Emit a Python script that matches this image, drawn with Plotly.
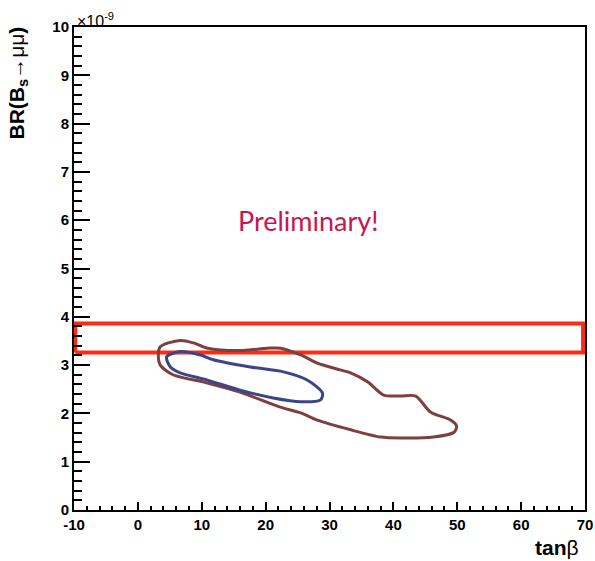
import plotly.graph_objects as go

# Data (BR in units of 1e-9)
inner_tanb = [4.5, 6.6, 9.8, 11.8, 17.6, 22.8, 26.5, 28.9, 28.6, 25.5, 21.2, 16.0, 10.9, 6.6, 5.1, 4.5]
inner_br = [3.17, 3.28, 3.21, 3.11, 2.96, 2.86, 2.69, 2.42, 2.28, 2.24, 2.32, 2.48, 2.69, 2.84, 2.96, 3.17]

outer_tanb = [3.2, 3.5, 6.6, 8.7, 10.9, 16.0, 20.3, 22.3, 25.5, 28.1, 31.7, 33.3, 36.0, 38.5, 41.1,
              43.5, 45.8, 49.0, 49.9, 49.5, 46.3, 41.1, 38.0, 33.3, 28.1, 25.5, 22.3, 16.0, 10.9,
              5.5, 3.5, 3.2]
outer_br = [3.17, 3.38, 3.51, 3.46, 3.35, 3.30, 3.35, 3.35, 3.21, 3.04, 2.90, 2.84, 2.65, 2.38, 2.36,
            2.36, 2.03, 1.86, 1.74, 1.61, 1.51, 1.49, 1.51, 1.66, 1.86, 2.01, 2.13, 2.44, 2.63,
            2.80, 3.00, 3.17]

band_tanb = [-9.8, 69.7]
band_br = [3.26, 3.86]

x_range = [-10, 70]
y_range = [0, 10]
x_ticks = [-10, 0, 10, 20, 30, 40, 50, 60, 70]
y_ticks = [0, 1, 2, 3, 4, 5, 6, 7, 8, 9, 10]

fig = go.Figure()

bx = [band_tanb[0], band_tanb[1], band_tanb[1], band_tanb[0], band_tanb[0]]
by = [band_br[0], band_br[0], band_br[1], band_br[1], band_br[0]]
fig.add_trace(go.Scatter(x=bx, y=by, mode="lines",
                         line=dict(color="#ff2a12", width=4), showlegend=False, hoverinfo="skip"))

fig.add_trace(go.Scatter(x=outer_tanb, y=outer_br, mode="lines",
                         line=dict(color="#7d3f3f", width=3, shape="spline", smoothing=0.8),
                         showlegend=False))
fig.add_trace(go.Scatter(x=inner_tanb, y=inner_br, mode="lines",
                         line=dict(color="#3b4688", width=3, shape="spline", smoothing=0.8),
                         showlegend=False))

tickfont = dict(family="Liberation Sans", size=15, color="black", weight="bold")

fig.update_layout(
    width=595, height=561,
    margin=dict(l=74, r=10, t=27, b=51),
    plot_bgcolor="white", paper_bgcolor="white",
    xaxis=dict(range=x_range, tickvals=x_ticks, ticktext=[str(v) for v in x_ticks],
               ticks="inside", ticklen=8, tickwidth=2, tickcolor="black", automargin=False,
               showline=True, linecolor="black", linewidth=2, mirror=True,
               showgrid=False, zeroline=False, tickfont=tickfont,
               minor=dict(dtick=2, ticks="inside", ticklen=4, tickwidth=2, tickcolor="black", showgrid=False)),
    yaxis=dict(range=y_range, tickvals=y_ticks, ticktext=[str(v) for v in y_ticks],
               ticks="inside", ticklen=16, tickwidth=2, tickcolor="black", automargin=False,
               showline=True, linecolor="black", linewidth=2, mirror=True,
               showgrid=False, zeroline=False, tickfont=tickfont,
               minor=dict(dtick=0.2, ticks="inside", ticklen=8, tickwidth=2, tickcolor="black", showgrid=False)),
    annotations=[
        dict(text="×10<sup>-9</sup>", xref="paper", yref="paper", x=0.0, y=1.0,
             xanchor="left", yanchor="bottom", showarrow=False, xshift=1, yshift=-5,
             font=dict(family="Liberation Sans", size=16, color="black")),
        dict(text="<b>BR(B<sub>s</sub></b>→μμ<b>)</b>", xref="paper", yref="paper",
             x=0, y=1.0, xanchor="right", yanchor="top", textangle=-90, showarrow=False,
             xshift=-42, yshift=2, font=dict(family="Liberation Sans", size=21, color="black")),
        dict(text="<b>tan</b>β", xref="paper", yref="paper", x=1.0, y=0, xanchor="right",
             yanchor="top", showarrow=False, yshift=-24, xshift=-4,
             font=dict(family="Liberation Sans", size=21, color="black")),
        dict(text="Preliminary!", xref="x", yref="y", x=26.7, y=6.0, showarrow=False,
             font=dict(family="Lato", size=27, color="#c8164f")),
    ],
)

fig.write_html("out.html")
